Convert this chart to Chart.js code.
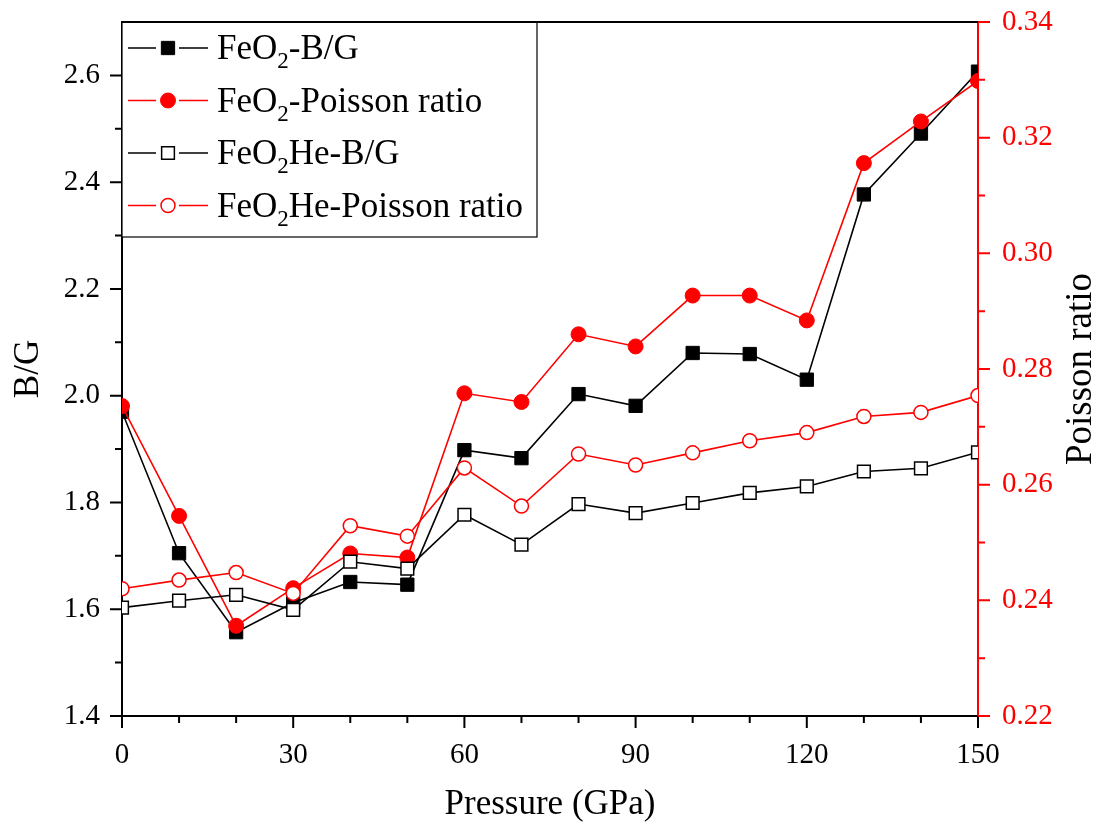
<!DOCTYPE html>
<html>
<head>
<meta charset="utf-8">
<script src="https://cdn.jsdelivr.net/npm/chart.js@4.4.1/dist/chart.umd.min.js"></script>
<style>
  html, body { margin: 0; padding: 0; background: #fff; }
  #wrap { width: 1100px; height: 829px; }
</style>
</head>
<body>
<div id="wrap"><canvas id="chart" width="1100" height="829"></canvas></div>
<script>
// pressure (GPa)
let pressure = [0, 10, 20, 30, 40, 50, 60, 70, 80, 90, 100, 110, 120, 130, 140, 150];

// B/G (left axis)
let feo2BG   = [1.970, 1.705, 1.557, 1.612, 1.651, 1.646, 1.898, 1.883, 2.003, 1.981, 2.080, 2.078, 2.030, 2.377, 2.491, 2.607];
let feo2heBG = [1.603, 1.616, 1.627, 1.599, 1.689, 1.676, 1.777, 1.721, 1.797, 1.780, 1.799, 1.818, 1.830, 1.858, 1.864, 1.894];

// poisson ratio (right axis)
let feo2Poisson   = [0.2736, 0.2546, 0.2356, 0.2421, 0.2481, 0.2474, 0.2758, 0.2743, 0.2860, 0.2839, 0.2927, 0.2927, 0.2884, 0.3156, 0.3228, 0.3298];
let feo2hePoisson = [0.2420, 0.2435, 0.2448, 0.2412, 0.2529, 0.2511, 0.2629, 0.2563, 0.2653, 0.2634, 0.2655, 0.2676, 0.2690, 0.2718, 0.2725, 0.2754];

// ticks
let xTicks  = [0, 30, 60, 90, 120, 150];
let xMinor  = [10, 20, 40, 50, 70, 80, 100, 110, 130, 140];
let yTicks  = [1.4, 1.6, 1.8, 2.0, 2.2, 2.4, 2.6];
let yMinor  = [1.5, 1.7, 1.9, 2.1, 2.3, 2.5];
let y1Ticks = [0.22, 0.24, 0.26, 0.28, 0.30, 0.32, 0.34];
let y1Minor = [0.23, 0.25, 0.27, 0.29, 0.31, 0.33];

// legend text: [before, subscript, after]
let legendParts = [
  ["FeO", "2", "-B/G"],
  ["FeO", "2", "-Poisson ratio"],
  ["FeO", "2", "He-B/G"],
  ["FeO", "2", "He-Poisson ratio"]
];

const FONT = "'Liberation Serif', 'Times New Roman', serif";
const RED = "#ff0000";

function pts(arr) {
  return arr.map((v, i) => ({ x: pressure[i], y: v }));
}

// fixed box sizes so the plot area lands where the original has it
function fitBox(s, w, h) {
  if (w != null) s.width = w;
  if (h != null) s.height = h;
  s.paddingTop = 0; s.paddingBottom = 0;
  s.paddingLeft = 0; s.paddingRight = 0;
}

// outward tick marks, major and minor
const tickMarks = {
  id: "tickMarks",
  afterDraw(chart) {
    const ctx = chart.ctx, a = chart.chartArea;
    const sx = chart.scales.x, sy = chart.scales.y, sy1 = chart.scales.y1;
    ctx.save();
    ctx.lineWidth = 2;

    ctx.strokeStyle = "#000";
    ctx.beginPath();
    xTicks.forEach(v => { let p = sx.getPixelForValue(v); ctx.moveTo(p, a.bottom); ctx.lineTo(p, a.bottom + 12); });
    xMinor.forEach(v => { let p = sx.getPixelForValue(v); ctx.moveTo(p, a.bottom); ctx.lineTo(p, a.bottom + 7); });
    yTicks.forEach(v => { let p = sy.getPixelForValue(v); ctx.moveTo(a.left, p); ctx.lineTo(a.left - 12, p); });
    yMinor.forEach(v => { let p = sy.getPixelForValue(v); ctx.moveTo(a.left, p); ctx.lineTo(a.left - 7, p); });
    // top frame
    ctx.moveTo(a.left - 1, a.top); ctx.lineTo(a.right, a.top);
    ctx.stroke();

    ctx.strokeStyle = RED;
    ctx.beginPath();
    y1Ticks.forEach(v => { let p = sy1.getPixelForValue(v); ctx.moveTo(a.right, p); ctx.lineTo(a.right + 12, p); });
    y1Minor.forEach(v => { let p = sy1.getPixelForValue(v); ctx.moveTo(a.right, p); ctx.lineTo(a.right + 7, p); });
    ctx.stroke();

    // right axis title, reads bottom to top
    ctx.fillStyle = "#000";
    ctx.font = "37px " + FONT;
    ctx.textAlign = "center";
    ctx.textBaseline = "middle";
    ctx.translate(1081, (a.top + a.bottom) / 2);
    ctx.rotate(-Math.PI / 2);
    ctx.fillText("Poisson ratio", 0, 0);
    ctx.restore();
  }
};

function drawMarker(ctx, ds, x, y) {
  ctx.fillStyle = ds.pointBackgroundColor;
  ctx.strokeStyle = ds.pointBorderColor;
  ctx.lineWidth = ds.pointBorderWidth;
  ctx.beginPath();
  if (ds.pointStyle === "rect") {
    let s = ds.pointRadius * Math.SQRT1_2;
    ctx.rect(x - s, y - s, 2 * s, 2 * s);
  } else {
    ctx.arc(x, y, ds.pointRadius, 0, Math.PI * 2);
  }
  ctx.fill();
  ctx.stroke();
}

// boxed legend in the top-left corner
const legendBox = {
  id: "legendBox",
  afterDatasetsDraw(chart) {
    const ctx = chart.ctx, a = chart.chartArea;
    const x0 = a.left, y0 = a.top, w = 415, h = 215;
    ctx.save();
    ctx.fillStyle = "#fff";
    ctx.fillRect(x0, y0, w, h);
    ctx.strokeStyle = "#000";
    ctx.lineWidth = 1.2;
    ctx.strokeRect(x0, y0, w, h);

    chart.data.datasets.forEach((ds, i) => {
      let cy = y0 + 26 + i * 52.5;
      ctx.strokeStyle = ds.borderColor;
      ctx.lineWidth = ds.borderWidth;
      ctx.beginPath();
      ctx.moveTo(x0 + 6, cy); ctx.lineTo(x0 + 34, cy);
      ctx.moveTo(x0 + 57, cy); ctx.lineTo(x0 + 86, cy);
      ctx.stroke();
      drawMarker(ctx, ds, x0 + 46, cy);

      let parts = legendParts[i];
      let tx = x0 + 95;
      ctx.fillStyle = "#000";
      ctx.textBaseline = "alphabetic";
      ctx.textAlign = "left";
      ctx.font = "35px " + FONT;
      ctx.fillText(parts[0], tx, cy + 11);
      tx += ctx.measureText(parts[0]).width;
      ctx.font = "23px " + FONT;
      ctx.fillText(parts[1], tx, cy + 20);
      tx += ctx.measureText(parts[1]).width;
      ctx.font = "35px " + FONT;
      ctx.fillText(parts[2], tx, cy + 11);
    });
    ctx.restore();
  }
};

new Chart(document.getElementById("chart"), {
  type: "line",
  data: {
    datasets: [
      {
        label: "FeO2-B/G", data: pts(feo2BG), yAxisID: "y", order: 4,
        borderColor: "#000", borderWidth: 1.6,
        pointStyle: "rect", pointRadius: 9.4, pointHoverRadius: 9.4,
        pointBackgroundColor: "#000", pointBorderColor: "#000", pointBorderWidth: 1
      },
      {
        label: "FeO2-Poisson ratio", data: pts(feo2Poisson), yAxisID: "y1", order: 3,
        borderColor: RED, borderWidth: 1.6,
        pointStyle: "circle", pointRadius: 7.5, pointHoverRadius: 7.5,
        pointBackgroundColor: RED, pointBorderColor: RED, pointBorderWidth: 1
      },
      {
        label: "FeO2He-B/G", data: pts(feo2heBG), yAxisID: "y", order: 2,
        borderColor: "#000", borderWidth: 1.6,
        pointStyle: "rect", pointRadius: 9, pointHoverRadius: 9,
        pointBackgroundColor: "#fff", pointBorderColor: "#000", pointBorderWidth: 1.5
      },
      {
        label: "FeO2He-Poisson ratio", data: pts(feo2hePoisson), yAxisID: "y1", order: 1,
        borderColor: RED, borderWidth: 1.6,
        pointStyle: "circle", pointRadius: 7, pointHoverRadius: 7,
        pointBackgroundColor: "#fff", pointBorderColor: RED, pointBorderWidth: 1.5
      }
    ]
  },
  options: {
    responsive: false,
    animation: false,
    layout: { padding: { top: 22, left: 0, right: 0, bottom: 0 } },
    datasets: { line: { clip: 0, tension: 0 } },
    plugins: { legend: { display: false }, tooltip: { enabled: false } },
    scales: {
      x: {
        type: "linear", min: 0, max: 150,
        afterBuildTicks: s => { s.ticks = xTicks.map(v => ({ value: v })); },
        afterFit: s => fitBox(s, null, 829 - 716),
        grid: { display: false, drawTicks: false },
        border: { display: true, color: "#000", width: 2 },
        ticks: { color: "#000", padding: 22, font: { family: FONT, size: 29 }, maxRotation: 0 },
        title: { display: true, text: "Pressure (GPa)", color: "#000",
                 font: { family: FONT, size: 35, lineHeight: 1.2 }, padding: { top: 0, bottom: 3 } }
      },
      y: {
        position: "left", min: 1.4, max: 2.7,
        afterBuildTicks: s => { s.ticks = yTicks.map(v => ({ value: v })); },
        afterFit: s => fitBox(s, 122, null),
        grid: { display: false, drawTicks: false },
        border: { display: true, color: "#000", width: 2 },
        ticks: { color: "#000", padding: 22, font: { family: FONT, size: 29 },
                 callback: v => v.toFixed(1) },
        title: { display: true, text: "B/G", color: "#000",
                 font: { family: FONT, size: 35, lineHeight: 1.2 }, padding: { top: 8, bottom: 0 } }
      },
      y1: {
        position: "right", min: 0.22, max: 0.34,
        afterBuildTicks: s => { s.ticks = y1Ticks.map(v => ({ value: v })); },
        afterFit: s => fitBox(s, 1100 - 978, null),
        grid: { display: false, drawTicks: false },
        border: { display: true, color: RED, width: 2 },
        ticks: { color: RED, padding: 24, font: { family: FONT, size: 29 },
                 callback: v => v.toFixed(2) }
      }
    }
  },
  plugins: [legendBox, tickMarks]
});
</script>
</body>
</html>
